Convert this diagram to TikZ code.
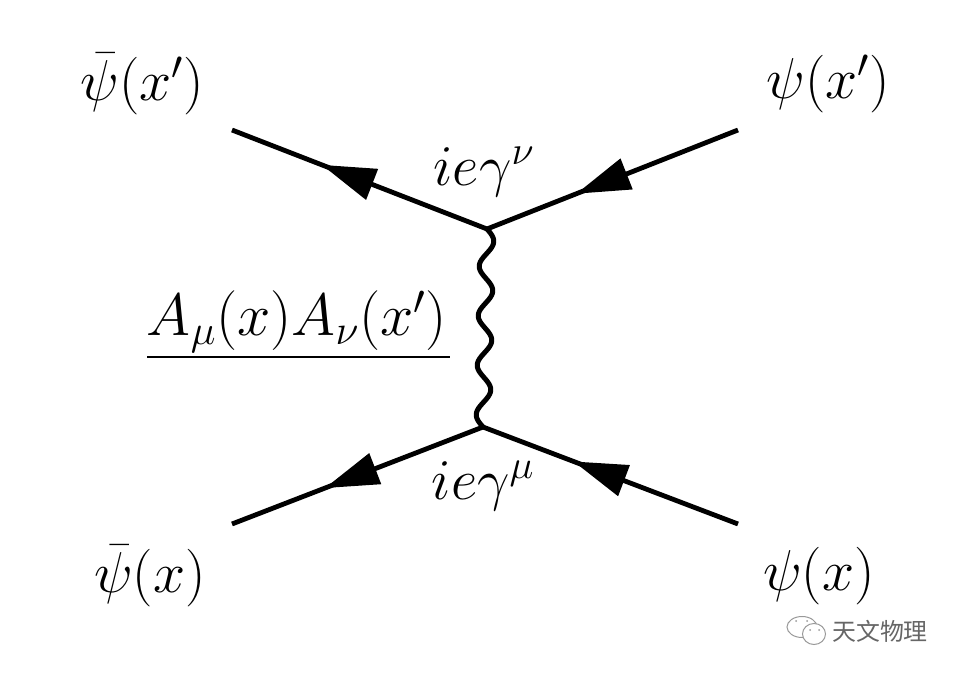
\documentclass[tikz,border=0pt]{standalone}
\usepackage{fix-cm}
\usepackage{amsmath}
\usepackage{amssymb}
\usepackage{fontspec}
\usepackage{tikz}
\usetikzlibrary{arrows.meta,calc,decorations.markings}
\newfontfamily\cjk{Noto Sans CJK SC}
\tikzset{
    fermion/.style={line width=1.2mm, decoration={markings,
        mark=at position #1 with {\arrow{Triangle[length=13.5mm,width=8mm]}}},
        postaction={decorate}},
    photon/.style={line width=1.25mm, line join=round},
    lab/.style={font=\fontsize{41}{44}\selectfont, inner sep=0pt},
    proplab/.style={font=\fontsize{42.5}{45}\selectfont, inner sep=0pt},
    bubble/.style={draw=black!40, line width=0.25mm}
}
\begin{document}
\begin{tikzpicture}[x=0.025cm, y=-0.025cm]
    \useasboundingbox (0,0) rectangle (960,674);
    \fill[white] (0,0) rectangle (960,674);

    % Vertices and outer ends
    \coordinate (vtop) at (487,229);
    \coordinate (vbot) at (483,427);
    \coordinate (tl) at (232,130);
    \coordinate (tr) at (738,130);
    \coordinate (bl) at (232,524);
    \coordinate (br) at (738,524);

    % Fermion lines
    \draw[fermion=0.648] (vtop) -- (tl);
    \draw[fermion=0.644] (tr) -- (vtop);
    \draw[fermion=0.63] (vbot) -- (bl);
    \draw[fermion=0.645] (br) -- (vbot);

    % Photon line
    \draw[photon] (vtop) \foreach \k in {1,...,120} {
        -- ($(vtop)!\k/120!(vbot)+({7*sin(12*\k)},0)$) };

    % Field labels
    \node[lab] (psibartop) at (142,84) {$\bar\psi(x')$};
    \node[lab] (psitop) at (828,84) {$\psi(x')$};
    \node[lab] (psibarbot) at (150,576) {$\bar\psi(x)$};
    \node[lab] (psibot) at (819,576) {$\psi(x)$};

    % Vertex labels
    \node[lab] (vertexnu) at (484,172) {$ie\gamma^{\nu}$};
    \node[lab] (vertexmu) at (483,486) {$ie\gamma^{\mu}$};

    % Propagator label
    \node[proplab] (prop) at (297,322) {$A_{\mu}(x)A_{\nu}(x')$};
    \coordinate (ruleL) at (147,357);
    \coordinate (ruleR) at (450,357);
    \draw[line width=0.7mm] (ruleL) -- (ruleR);

    % Watermark
    \draw[bubble] (802,627) ellipse [x radius=15, y radius=10.5];
    \draw[bubble, fill=white] (814,634) ellipse [x radius=11.5, y radius=10.5];
    \fill[black!40] (796,621) circle (1) (807,621) circle (1) (810,630) circle (1) (819,630) circle (1);
    \node[font=\cjk\fontsize{17}{18}\selectfont, text=black!60, inner sep=0pt] (mark) at (880,631) {天文物理};
\end{tikzpicture}
\end{document}
